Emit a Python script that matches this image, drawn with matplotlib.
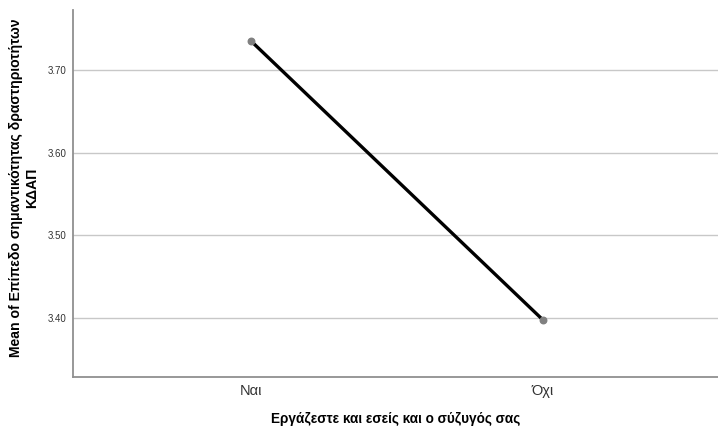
import matplotlib.pyplot as plt

plt.rcParams['font.family'] = ['Liberation Sans', 'DejaVu Sans']

categories = ["Ναι", "Όχι"]
means = [3.735, 3.398]
yticks = [3.40, 3.50, 3.60, 3.70]

fig = plt.figure(figsize=(7.18, 4.28), dpi=100)
ax = fig.add_axes([0.1017, 0.1192, 0.8983, 0.8574])

x = list(range(len(categories)))
ax.plot(x, means, color="black", lw=2.4, zorder=3)
ax.scatter(x, means, s=22, color="#808080", zorder=4)

ax.set_xlim(-0.61, 1.60)
ax.set_ylim(3.329, 3.7725)
ax.set_yticks(yticks)
ax.set_yticklabels(["%.2f" % v for v in yticks], fontsize=7, color="#333333")
ax.set_xticks(x)
ax.set_xticklabels(categories, fontsize=10.5, color="#333333")
ax.tick_params(axis="y", length=0, pad=5)
ax.tick_params(axis="x", length=0, pad=5)

ax.grid(axis="y", color="#c8c8c8", lw=1)
ax.set_axisbelow(True)
for s in ["top", "right"]:
    ax.spines[s].set_visible(False)
for s in ["left", "bottom"]:
    ax.spines[s].set_color("#909090")
    ax.spines[s].set_linewidth(1.3)

ax.set_xlabel("Εργάζεστε και εσείς και ο σύζυγός σας", fontsize=9.8,
              fontweight="bold")
ax.xaxis.set_label_coords(0.50, -0.095)
fig.text(24 / 718, 0.562, "Mean of Επίπεδο σημαντικότητας δραστηριοτήτων\nΚΔΑΠ",
         fontsize=10.1, fontweight="bold", rotation=90, ha="center", va="center",
         multialignment="center")

fig.savefig("out.png", dpi=100)
